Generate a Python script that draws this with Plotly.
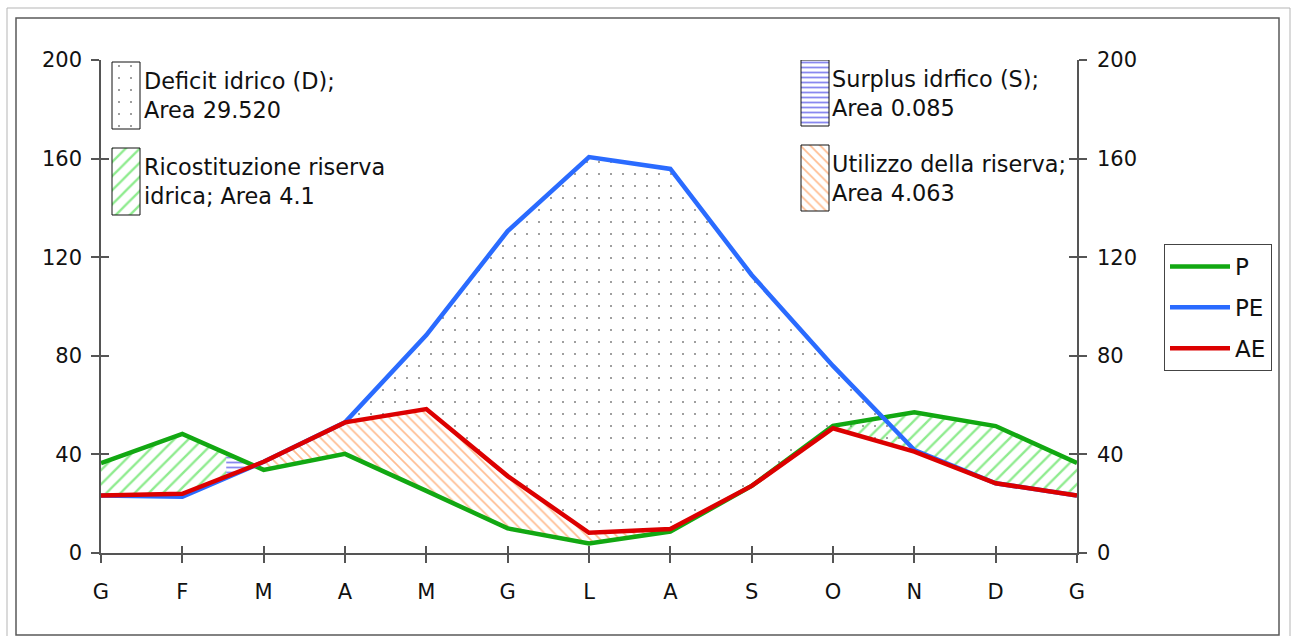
import numpy as np
import plotly.graph_objects as go

# Monthly water balance (mm)
MONTHS = ["G", "F", "M", "A", "M", "G", "L", "A", "S", "O", "N", "D", "G"]
P = [36.5, 48.3, 33.7, 40.2, 25.2, 10.0, 3.9, 8.7, 27.2, 51.6, 57.1, 51.5, 36.5]
PE = [23.3, 22.8, 37.0, 53.0, 88.4, 130.6, 160.6, 155.8, 112.8, 75.9, 41.8, 28.3, 23.3]
AE = [23.3, 24.0, 37.0, 53.0, 58.4, 31.2, 8.2, 9.7, 27.2, 50.6, 41.1, 28.3, 23.3]
RESERVE_FULL_AT = 1.54  # month position at which the soil reserve is refilled

Y_TICKS = [0, 40, 80, 120, 160, 200]
AREA_LABELS = {
    "deficit": "Deficit idrico (D);<br>Area 29.520",
    "recharge": "Ricostituzione riserva<br>idrica; Area 4.1",
    "surplus": "Surplus idrfico (S);<br>Area 0.085",
    "use": "Utilizzo della riserva;<br>Area 4.063",
}

# figure geometry (pixels)
W, H = 1293, 636
ML, MR, MT, MB = 101, 216, 60, 83
PW, PH = W - ML - MR, H - MT - MB

FONT = "DejaVu Sans"
GREEN, BLUE, RED = "#12a812", "#2a6bff", "#dc0000"
HATCH_GREEN, HATCH_ORANGE, HATCH_BLUE = "#1fd81f", "#ff7a22", "#1414e0"


def band(upper, lower, x0, x1):
    """Closed polygon of the area where `upper` lies above `lower` on [x0, x1]."""
    up = np.asarray(upper, float)
    lo = np.asarray(lower, float)
    idx = np.arange(len(up))
    xs = [x0, x1] + [float(i) for i in idx if x0 < i < x1]
    d = up - lo
    for i in range(len(d) - 1):
        if d[i] * d[i + 1] < 0:
            xc = i + d[i] / (d[i] - d[i + 1])
            if x0 < xc < x1:
                xs.append(xc)
    xs = np.array(sorted(xs))
    u = np.interp(xs, idx, up)
    l = np.interp(xs, idx, lo)
    u = np.maximum(u, l)
    return np.concatenate([xs, xs[::-1]]), np.concatenate([u, l[::-1]])


CLEAR = "rgba(255,255,255,0)"
PATTERNS = {
    "deficit": dict(shape=".", fgcolor="#000000", bgcolor=CLEAR, size=12, solidity=0.022),
    "recharge": dict(shape="/", fgcolor=HATCH_GREEN, bgcolor=CLEAR, size=10, solidity=0.24),
    "surplus": dict(shape="-", fgcolor=HATCH_BLUE, bgcolor=CLEAR, size=5, solidity=0.36),
    "use": dict(shape="\\", fgcolor=HATCH_ORANGE, bgcolor=CLEAR, size=7, solidity=0.24),
}


def area_trace(xy, key, xaxis="x", yaxis="y", outline=None):
    x, y = xy
    return go.Scatter(
        x=x, y=y, mode="lines", fill="toself",
        fillcolor=CLEAR,
        fillpattern=PATTERNS[key],
        line=dict(width=1 if outline else 0, color=outline or "rgba(0,0,0,0)"),
        hoverinfo="skip", showlegend=False, xaxis=xaxis, yaxis=yaxis,
    )


fig = go.Figure()

# shaded water-balance areas
fig.add_trace(area_trace(band(PE, AE, 3, 11), "deficit"))
fig.add_trace(area_trace(band(P, AE, 0, RESERVE_FULL_AT), "recharge"))
fig.add_trace(area_trace(band(P, AE, 8, 12), "recharge"))
fig.add_trace(area_trace(band(P, AE, RESERVE_FULL_AT, 3), "surplus"))
fig.add_trace(area_trace(band(AE, P, RESERVE_FULL_AT, 9), "use"))

# series lines
months_x = list(range(len(MONTHS)))
for name, vals, col in [("P", P, GREEN), ("PE", PE, BLUE), ("AE", AE, RED)]:
    fig.add_trace(go.Scatter(x=months_x, y=vals, mode="lines", name=name,
                             line=dict(color=col, width=4.5), legendgroup=name))

# key swatches for the shaded areas, drawn on a pixel-space overlay
SWATCHES = [
    ("deficit", 112, 140, 62, 129, 142),
    ("recharge", 112, 140, 148, 215, 142),
    ("surplus", 801, 829, 60, 126, 830),
    ("use", 801, 829, 145, 211, 830),
]
for key, x0, x1, y0, y1, tx in SWATCHES:
    fig.add_trace(area_trace(([x0, x1, x1, x0, x0], [y0, y0, y1, y1, y0]), key,
                             xaxis="x3", yaxis="y5", outline="#111111"))
    fig.add_annotation(x=tx, y=(y0 + y1) / 2, xref="x3", yref="y5", text=AREA_LABELS[key],
                       showarrow=False, xanchor="left", yanchor="middle", align="left",
                       font=dict(family=FONT, size=22.4, color="#111111"))

# anchors for the helper axes
for xa, ya in [("x2", "y3"), ("x", "y2"), ("x2", "y4")]:
    fig.add_trace(go.Scatter(x=[None], y=[None], xaxis=xa, yaxis=ya,
                             showlegend=False, hoverinfo="skip"))

AX = "#555555"
tickfont = dict(family=FONT, size=21, color="#111111")
common_y = dict(range=[0, 200], tickvals=Y_TICKS, showgrid=False, zeroline=False,
                fixedrange=True, tickcolor=AX, ticklen=8, tickwidth=1.5)

fig.update_layout(
    width=W, height=H,
    margin=dict(l=ML, r=MR, t=MT, b=MB, pad=0),
    paper_bgcolor="white", plot_bgcolor="white",
    font=dict(family=FONT),
    xaxis=dict(range=[0, 12], tickvals=months_x, ticktext=MONTHS, showgrid=False,
               zeroline=False, showline=True, linecolor=AX, linewidth=1.5,
               ticks="outside", ticklen=8, tickwidth=1.5, tickcolor=AX,
               tickfont=tickfont, ticklabelstandoff=11),
    xaxis2=dict(range=[0, 12], overlaying="x", tickvals=months_x, showticklabels=False,
                showgrid=False, zeroline=False, ticks="inside", ticklen=7, tickwidth=1.5,
                tickcolor=AX),
    xaxis3=dict(range=[ML, ML + PW], overlaying="x", visible=False),
    yaxis=dict(**common_y, showline=True, linecolor=AX, linewidth=1.5,
               ticks="outside", tickfont=tickfont, ticklabelstandoff=5),
    yaxis2=dict(**common_y, overlaying="y", side="right", showline=True, linecolor=AX,
                linewidth=1.5, ticks="outside", tickfont=tickfont, ticklabelstandoff=6),
    yaxis3=dict(**common_y, overlaying="y", side="left", ticks="inside",
                showticklabels=False, anchor="x2"),
    yaxis4=dict(**common_y, overlaying="y", side="right", ticks="inside",
                showticklabels=False, anchor="x2"),
    yaxis5=dict(range=[MT + PH, MT], overlaying="y", visible=False, anchor="x3"),
    legend=dict(x=(1164 - ML) / PW, y=(MT + PH - 244) / PH, xanchor="left", yanchor="top",
                bgcolor="white", bordercolor="#444444", borderwidth=1,
                font=dict(family=FONT, size=23, color="#111111"),
                traceorder="grouped", tracegroupgap=8, itemwidth=60),
)


def px_x(px):
    return (px - ML) / PW


def px_y(py):
    return (MT + PH - py) / PH


# chart frame
for x0, x1, y0, y1, col, w in [(7, 1290, 8, 660, "#b5b5b5", 1), (16, 1279, 18, 635, "#5a5a5a", 1.5)]:
    fig.add_shape(type="rect", xref="paper", yref="paper",
                  x0=px_x(x0), x1=px_x(x1), y0=px_y(y1), y1=px_y(y0),
                  line=dict(color=col, width=w), fillcolor="rgba(0,0,0,0)", layer="below")

fig.write_html("out.html")
